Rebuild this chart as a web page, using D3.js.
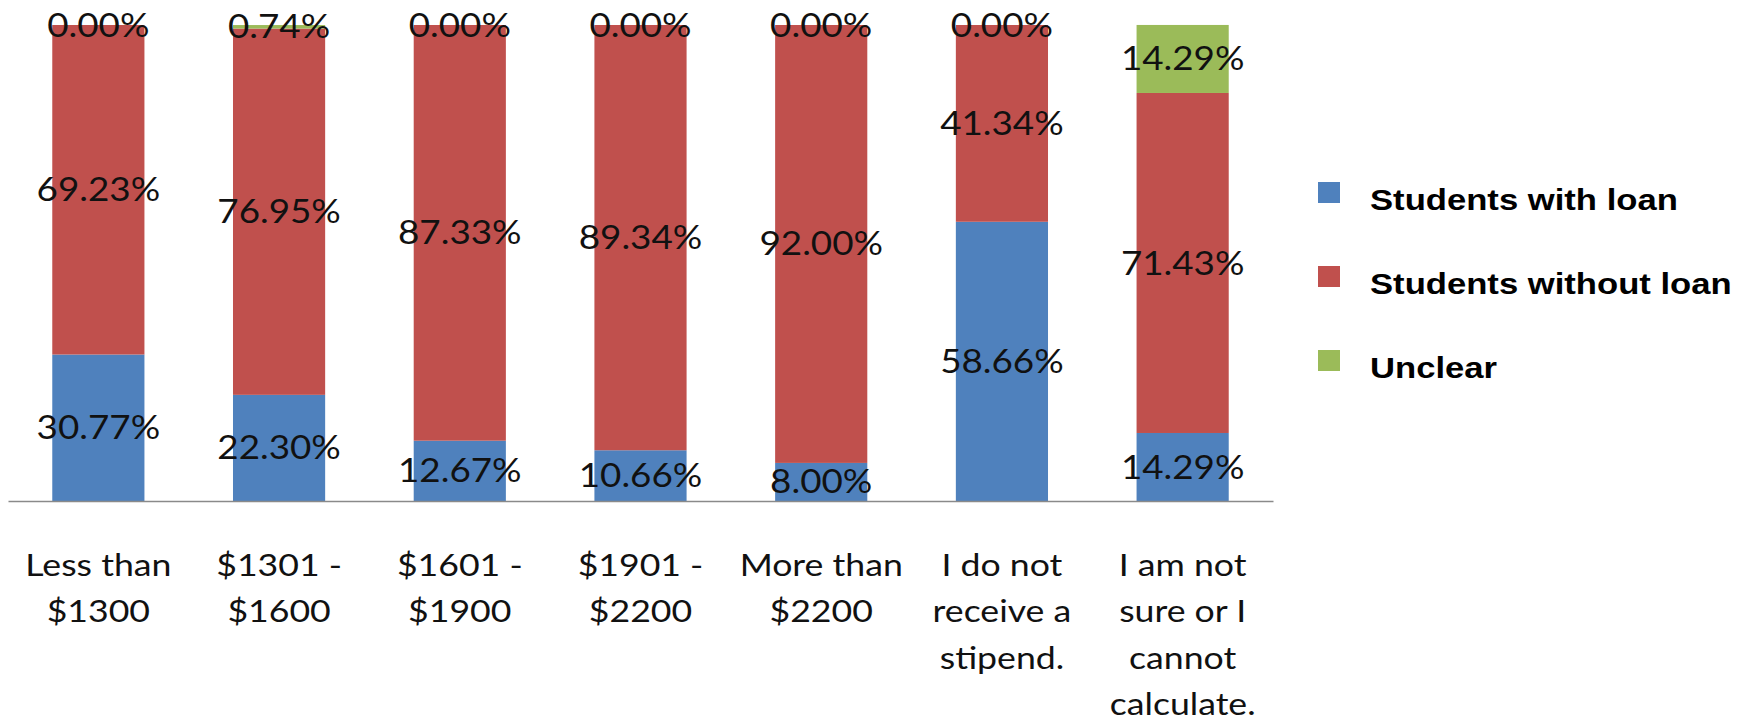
<!DOCTYPE html>
<html>
<head>
<meta charset="utf-8">
<script src="https://cdn.jsdelivr.net/npm/d3@7"></script>
<style>
  html, body { margin: 0; padding: 0; background: #fff; }
  svg { display: block; }
</style>
</head>
<body>
<svg id="chart" width="1746" height="724"></svg>
<script>
// Monthly stipend brackets (category axis), each split into loan status shares
const categories = [
  "Less than $1300", "$1301 - $1600", "$1601 - $1900", "$1901 - $2200",
  "More than $2200", "I do not receive a stipend.", "I am not sure or I cannot calculate."
];
const categoryLines = [
  ["Less than", "$1300"],
  ["$1301 -", "$1600"],
  ["$1601 -", "$1900"],
  ["$1901 -", "$2200"],
  ["More than", "$2200"],
  ["I do not", "receive a", "stipend."],
  ["I am not", "sure or I", "cannot", "calculate."]
];
const seriesNames = ["Students with loan", "Students without loan", "Unclear"];
const withLoan    = [30.77, 22.30, 12.67, 10.66, 8.00, 58.66, 14.29];
const withoutLoan = [69.23, 76.95, 87.33, 89.34, 92.00, 41.34, 71.43];
const unclear     = [0.00, 0.74, 0.00, 0.00, 0.00, 0.00, 14.29];
const seriesColors = ["#4F81BD", "#C0504D", "#9BBB59"];

const rows = categories.map((c, i) => ({
  category: c,
  [seriesNames[0]]: withLoan[i],
  [seriesNames[1]]: withoutLoan[i],
  [seriesNames[2]]: unclear[i]
}));

const svg = d3.select("#chart");
svg.append("rect").attr("width", 1746).attr("height", 724).attr("fill", "#fff");

const plot = { left: 8, right: 1273, top: 25, bottom: 501 };

const x = d3.scaleBand()
  .domain(categories)
  .range([plot.left, plot.right])
  .paddingInner(0.49)
  .paddingOuter(0.245);

const y = d3.scaleLinear()
  .domain([0, 100])
  .range([plot.bottom, plot.top]);

const color = d3.scaleOrdinal().domain(seriesNames).range(seriesColors);

const stacked = d3.stack().keys(seriesNames)(rows);

// Stacked bars
const layers = svg.append("g").selectAll("g")
  .data(stacked)
  .join("g")
  .attr("fill", d => color(d.key));

layers.selectAll("rect")
  .data(d => d)
  .join("rect")
  .attr("x", d => x(d.data.category))
  .attr("width", x.bandwidth())
  .attr("y", d => y(d[1]))
  .attr("height", d => y(d[0]) - y(d[1]));

// Category axis line
const axis = d3.axisBottom(x).tickSize(0).tickFormat("");
svg.append("g")
  .attr("transform", `translate(0,${plot.bottom})`)
  .call(axis)
  .call(g => g.select(".domain").attr("stroke", "#8a8a8a").attr("stroke-width", 1.5));

// Text is drawn slightly widened, like the rest of the figure
const textFont = "Lato, 'Open Sans', sans-serif";
const stretch = 1.15;

// Data labels centred in each segment
const labelG = svg.append("g");
stacked.forEach(layer => {
  layer.forEach(d => {
    const cx = x(d.data.category) + x.bandwidth() / 2;
    const cy = (y(d[0]) + y(d[1])) / 2;
    labelG.append("text")
      .attr("transform", `translate(${cx},${cy}) scale(${stretch},1)`)
      .attr("text-anchor", "middle")
      .attr("dy", "0.36em")
      .attr("font-family", textFont)
      .attr("font-size", 32)
      .attr("fill", "#111")
      .text(d3.format(".2f")(d.data[layer.key]) + "%");
  });
});

// Multi-line category labels
const catG = svg.append("g");
categories.forEach((c, i) => {
  const cx = x(c) + x.bandwidth() / 2;
  categoryLines[i].forEach((line, j) => {
    catG.append("text")
      .attr("transform", `translate(${cx},${576 + j * 46.3}) scale(${stretch},1)`)
      .attr("text-anchor", "middle")
      .attr("font-family", textFont)
      .attr("font-size", 31)
      .attr("fill", "#111")
      .text(line);
  });
});

// Legend
const legend = svg.append("g").attr("transform", "translate(1318,182)");
const items = legend.selectAll("g")
  .data(seriesNames)
  .join("g")
  .attr("transform", (d, i) => `translate(0,${i * 84})`);
items.append("rect")
  .attr("width", 22).attr("height", 21)
  .attr("fill", d => color(d));
items.append("text")
  .attr("transform", "translate(52,28) scale(1.155,1)")
  .attr("font-family", "'Liberation Sans', Arial, sans-serif")
  .attr("font-weight", "bold")
  .attr("font-size", 30)
  .attr("fill", "#000")
  .text(d => d);
</script>
</body>
</html>
